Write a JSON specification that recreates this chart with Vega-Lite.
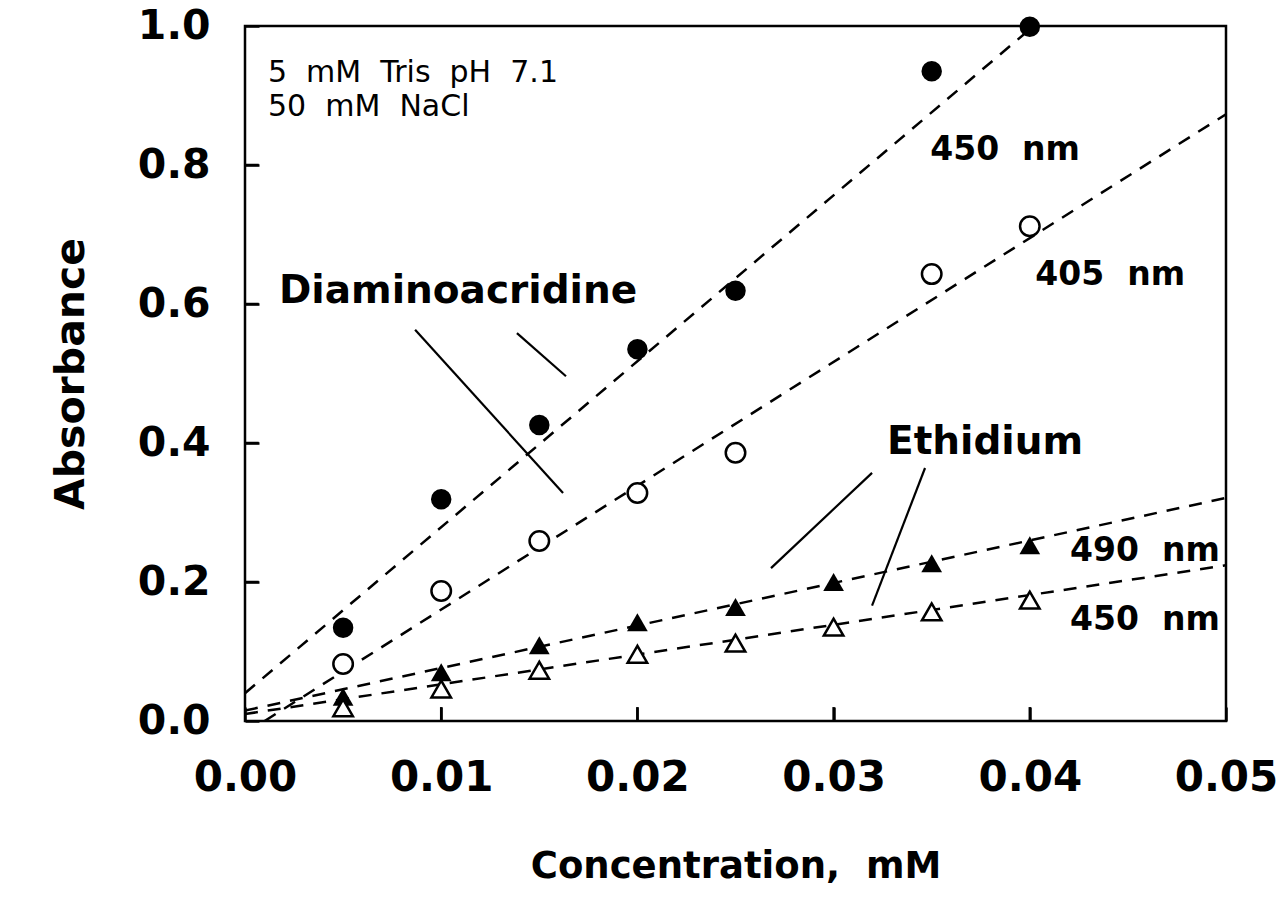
{
  "$schema": "https://vega.github.io/schema/vega-lite/v6.json",
  "autosize": "none",
  "width": 981,
  "height": 695,
  "padding": {"left": 245, "top": 26, "right": 60, "bottom": 202},
  "background": "white",
  "config": {
    "view": {"stroke": "black", "strokeWidth": 2.5},
    "font": "DejaVu Sans",
    "axis": {
      "grid": false,
      "domain": false,
      "tickColor": "black",
      "tickWidth": 2.5,
      "labelFont": "DejaVu Sans",
      "labelFontWeight": "bold",
      "labelColor": "black",
      "titleFont": "DejaVu Sans",
      "titleFontWeight": "bold",
      "titleColor": "black"
    }
  },
  "datasets": {
    "points": [
      {"conc": 0.005, "abs": 0.134, "series": "DA450"},
      {"conc": 0.010, "abs": 0.319, "series": "DA450"},
      {"conc": 0.015, "abs": 0.426, "series": "DA450"},
      {"conc": 0.020, "abs": 0.535, "series": "DA450"},
      {"conc": 0.025, "abs": 0.619, "series": "DA450"},
      {"conc": 0.035, "abs": 0.935, "series": "DA450"},
      {"conc": 0.040, "abs": 0.999, "series": "DA450"},
      {"conc": 0.005, "abs": 0.082, "series": "DA405"},
      {"conc": 0.010, "abs": 0.187, "series": "DA405"},
      {"conc": 0.015, "abs": 0.259, "series": "DA405"},
      {"conc": 0.020, "abs": 0.328, "series": "DA405"},
      {"conc": 0.025, "abs": 0.386, "series": "DA405"},
      {"conc": 0.035, "abs": 0.643, "series": "DA405"},
      {"conc": 0.040, "abs": 0.712, "series": "DA405"},
      {"conc": 0.005, "abs": 0.035, "series": "ET490"},
      {"conc": 0.010, "abs": 0.070, "series": "ET490"},
      {"conc": 0.015, "abs": 0.109, "series": "ET490"},
      {"conc": 0.020, "abs": 0.142, "series": "ET490"},
      {"conc": 0.025, "abs": 0.164, "series": "ET490"},
      {"conc": 0.030, "abs": 0.200, "series": "ET490"},
      {"conc": 0.035, "abs": 0.227, "series": "ET490"},
      {"conc": 0.040, "abs": 0.253, "series": "ET490"},
      {"conc": 0.005, "abs": 0.019, "series": "ET450"},
      {"conc": 0.010, "abs": 0.046, "series": "ET450"},
      {"conc": 0.015, "abs": 0.073, "series": "ET450"},
      {"conc": 0.020, "abs": 0.096, "series": "ET450"},
      {"conc": 0.025, "abs": 0.112, "series": "ET450"},
      {"conc": 0.030, "abs": 0.135, "series": "ET450"},
      {"conc": 0.035, "abs": 0.157, "series": "ET450"},
      {"conc": 0.040, "abs": 0.174, "series": "ET450"}
    ],
    "fits": [
      {"series": "DA450", "conc": 0.0, "abs": 0.04},
      {"series": "DA450", "conc": 0.0402, "abs": 1.0},
      {"series": "DA405", "conc": 0.001, "abs": 0.0},
      {"series": "DA405", "conc": 0.05, "abs": 0.873},
      {"series": "ET490", "conc": 0.0, "abs": 0.015},
      {"series": "ET490", "conc": 0.05, "abs": 0.321},
      {"series": "ET450", "conc": 0.0, "abs": 0.01},
      {"series": "ET450", "conc": 0.05, "abs": 0.224}
    ],
    "leaders": [
      {"id": "d1", "conc": 0.00867, "abs": 0.563},
      {"id": "d1", "conc": 0.01621, "abs": 0.328},
      {"id": "d2", "conc": 0.01386, "abs": 0.558},
      {"id": "d2", "conc": 0.01636, "abs": 0.496},
      {"id": "e1", "conc": 0.02681, "abs": 0.220},
      {"id": "e1", "conc": 0.03196, "abs": 0.357},
      {"id": "e2", "conc": 0.03196, "abs": 0.166},
      {"id": "e2", "conc": 0.03466, "abs": 0.364}
    ],
    "yticks": [
      {"conc": 0, "conc2": 0.0007, "abs": 0.2},
      {"conc": 0, "conc2": 0.0007, "abs": 0.4},
      {"conc": 0, "conc2": 0.0007, "abs": 0.6},
      {"conc": 0, "conc2": 0.0007, "abs": 0.8}
    ],
    "xticks": [
      {"conc": 0.01, "abs": 0, "abs2": 0.02},
      {"conc": 0.02, "abs": 0, "abs2": 0.02},
      {"conc": 0.03, "abs": 0, "abs2": 0.02},
      {"conc": 0.04, "abs": 0, "abs2": 0.02}
    ],
    "labels": [
      {"text": "450\u00a0\u00a0nm", "conc": 0.03874, "abs": 0.822},
      {"text": "405\u00a0\u00a0nm", "conc": 0.0441, "abs": 0.642},
      {"text": "490\u00a0\u00a0nm", "conc": 0.04587, "abs": 0.245},
      {"text": "450\u00a0\u00a0nm", "conc": 0.04587, "abs": 0.145}
    ],
    "names": [
      {"text": "Diaminoacridine", "conc": 0.01086, "abs": 0.618},
      {"text": "Ethidium", "conc": 0.03772, "abs": 0.402}
    ],
    "notes": [
      {"text": "5\u00a0\u00a0mM\u00a0\u00a0Tris\u00a0\u00a0pH\u00a0\u00a07.1", "conc": 0.00117, "abs": 0.932},
      {"text": "50\u00a0\u00a0mM\u00a0\u00a0NaCl", "conc": 0.00117, "abs": 0.883}
    ]
  },
  "encoding": {
    "x": {
      "field": "conc",
      "type": "quantitative",
      "scale": {"domain": [0, 0.05], "nice": false, "zero": false},
      "axis": {
        "title": "Concentration,\u00a0\u00a0mM",
        "titleFontSize": 37,
        "titlePadding": 50,
        "values": [0, 0.01, 0.02, 0.03, 0.04, 0.05],
        "format": ".2f",
        "tickSize": -14,
        "labelFontSize": 42,
        "labelPadding": 50,
        "labelFlush": false,
        "labelOverlap": false
      }
    },
    "y": {
      "field": "abs",
      "type": "quantitative",
      "scale": {"domain": [0, 1], "nice": false},
      "axis": {
        "title": "Absorbance",
        "titleFontSize": 41,
        "titlePadding": 45,
        "values": [0, 0.2, 0.4, 0.6, 0.8, 1.0],
        "format": ".1f",
        "tickSize": -14,
        "labelFontSize": 41,
        "labelPadding": 49,
        "labelOverlap": false
      }
    }
  },
  "layer": [
    {
      "data": {"name": "yticks"},
      "mark": {"type": "rule", "color": "black", "strokeWidth": 2.5},
      "encoding": {"x2": {"field": "conc2"}}
    },
    {
      "data": {"name": "xticks"},
      "mark": {"type": "rule", "color": "black", "strokeWidth": 2.5},
      "encoding": {"y2": {"field": "abs2"}}
    },
    {
      "data": {"name": "fits"},
      "mark": {"type": "line", "color": "black", "strokeWidth": 2.5, "strokeDash": [13, 10], "clip": true},
      "encoding": {"detail": {"field": "series"}}
    },
    {
      "data": {"name": "leaders"},
      "mark": {"type": "line", "color": "black", "strokeWidth": 2.2},
      "encoding": {"detail": {"field": "id"}}
    },
    {
      "data": {"name": "points"},
      "transform": [{"filter": "datum.series === 'DA450'"}],
      "mark": {"type": "point", "shape": "circle", "filled": true, "color": "black", "size": 420, "opacity": 1}
    },
    {
      "data": {"name": "points"},
      "transform": [{"filter": "datum.series === 'DA405'"}],
      "mark": {"type": "point", "shape": "circle", "fill": "white", "stroke": "black", "strokeWidth": 2.5, "size": 380, "opacity": 1}
    },
    {
      "data": {"name": "points"},
      "transform": [{"filter": "datum.series === 'ET490'"}],
      "mark": {"type": "point", "shape": "triangle-up", "filled": true, "color": "black", "size": 430, "opacity": 1}
    },
    {
      "data": {"name": "points"},
      "transform": [{"filter": "datum.series === 'ET450'"}],
      "mark": {"type": "point", "shape": "triangle-up", "fill": "white", "stroke": "black", "strokeWidth": 2.5, "size": 380, "opacity": 1}
    },
    {
      "data": {"name": "labels"},
      "mark": {"type": "text", "font": "DejaVu Sans", "fontWeight": "bold", "fontSize": 33, "color": "black", "align": "center", "baseline": "middle"},
      "encoding": {"text": {"field": "text"}}
    },
    {
      "data": {"name": "names"},
      "mark": {"type": "text", "font": "DejaVu Sans", "fontWeight": "bold", "fontSize": 39, "color": "black", "align": "center", "baseline": "middle"},
      "encoding": {"text": {"field": "text"}}
    },
    {
      "data": {"name": "notes"},
      "mark": {"type": "text", "font": "DejaVu Sans", "fontSize": 30, "color": "black", "align": "left", "baseline": "middle"},
      "encoding": {"text": {"field": "text"}}
    }
  ]
}
